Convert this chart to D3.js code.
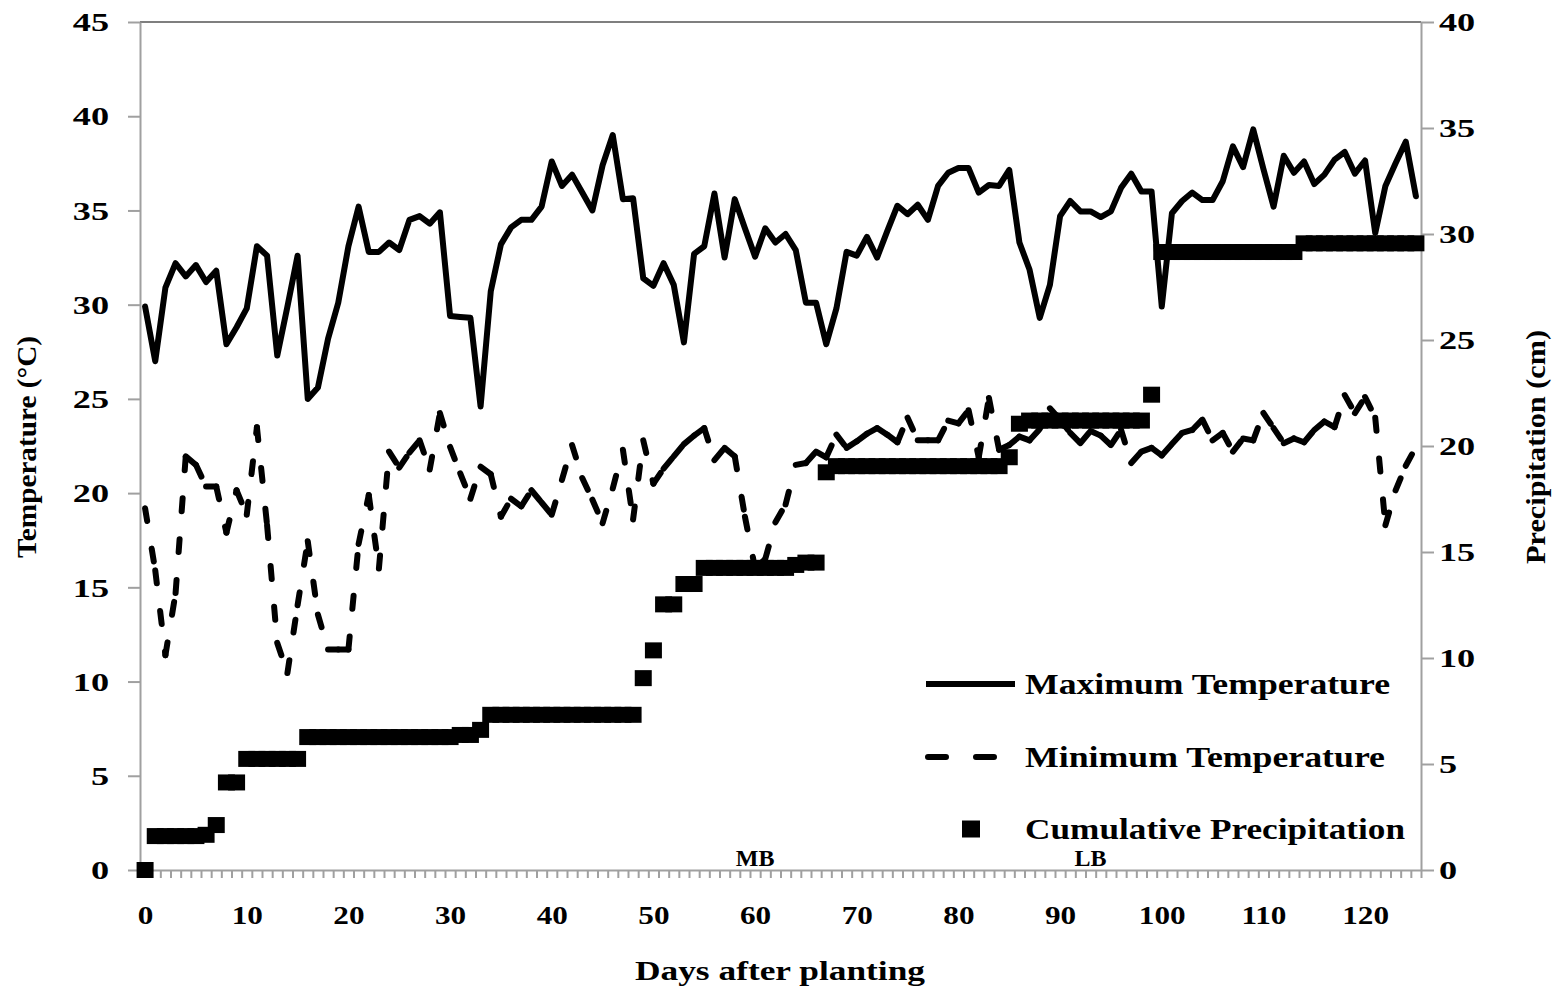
<!DOCTYPE html>
<meta charset="utf-8">
<style>
body { margin: 0; background: #fff; }
text { font-family: "Liberation Serif", "Times New Roman", serif; fill: #000; }
.axis path, .axis line { stroke: #a0a0a0; stroke-width: 2; }
.tick-label { font-weight: bold; font-size: 25px; }
.tmax { fill: none; stroke: #000; stroke-width: 6; stroke-linejoin: round; stroke-linecap: round; }
.tmin { fill: none; stroke: #000; stroke-width: 6; stroke-linecap: round; stroke-dasharray: 13 28; }
.precip { fill: #000; }
.legend-text { font-weight: bold; font-size: 30px; }
</style>
<svg width="1557" height="990"></svg>
<script src="https://d3js.org/d3.v7.min.js"></script>
<script>

// daily maximum temperature (C), days 0..125
var tMax = [29.9,27.0,30.9,32.2,31.5,32.1,31.2,31.8,27.9,28.8,
  29.8,33.1,32.6,27.3,29.9,32.6,25.0,25.6,28.2,30.1,
  33.1,35.2,32.8,32.8,33.3,32.9,34.5,34.7,34.3,34.9,
  29.4,29.35,29.3,24.6,30.7,33.2,34.1,34.5,34.5,35.2,
  37.6,36.3,36.9,35.95,35.0,37.4,39.0,35.6,35.65,31.4,
  31.0,32.2,31.05,28.0,32.7,33.1,35.9,32.5,35.6,34.05,
  32.55,34.05,33.3,33.75,32.9,30.1,30.1,27.9,29.8,32.8,
  32.6,33.6,32.5,33.9,35.25,34.8,35.3,34.5,36.3,37.0,
  37.25,37.25,35.95,36.35,36.3,37.15,33.3,31.85,29.3,31.05,
  34.7,35.5,34.95,34.95,34.65,34.95,36.2,36.95,36.0,36.0,
  29.9,34.85,35.5,35.95,35.55,35.55,36.55,38.4,37.3,39.3,
  37.2,35.2,37.9,37.0,37.6,36.4,36.9,37.7,38.1,36.95,
  37.65,33.8,36.3,37.5,38.65,35.75];

// daily minimum temperature (C)
var tMin = [19.2,15.9,11.4,14.7,21.95,21.5,20.35,20.35,17.9,20.15,
  18.85,23.5,18.3,12.05,10.45,14.05,17.45,13.55,11.7,11.7,
  11.7,17.3,19.9,16.0,22.2,21.35,22.15,22.8,21.25,24.25,
  22.45,21.05,19.7,21.4,21.0,18.75,19.7,19.3,20.15,19.5,
  18.85,20.7,22.55,20.8,19.65,18.4,20.25,22.3,18.6,22.8,
  20.5,21.3,21.95,22.6,23.05,23.45,21.75,22.4,21.95,18.75,
  16.0,16.5,18.45,19.4,21.5,21.6,22.2,21.9,23.1,22.4,
  22.75,23.15,23.45,23.1,22.7,24.0,22.8,22.8,22.8,23.85,
  23.7,24.4,21.9,25.05,22.3,22.55,23.0,22.8,23.4,24.5,
  23.9,23.2,22.65,23.3,23.05,22.55,23.35,21.6,22.2,22.4,
  22.0,22.6,23.2,23.35,23.9,22.8,23.2,22.2,22.9,22.8,
  24.25,23.45,22.65,22.9,22.7,23.35,23.8,23.5,25.2,24.25,
  25.1,24.0,18.3,20.15,21.45,22.45];

// cumulative precipitation (cm)
var precip = [0,1.6,1.6,1.6,1.6,1.6,1.66,2.12,4.13,4.13,
  5.24,5.24,5.24,5.24,5.24,5.24,6.27,6.27,6.27,6.27,
  6.27,6.27,6.27,6.27,6.27,6.27,6.27,6.27,6.27,6.27,
  6.27,6.37,6.37,6.61,7.32,7.32,7.32,7.32,7.32,7.32,
  7.32,7.32,7.32,7.32,7.32,7.32,7.32,7.32,7.32,9.05,
  10.36,12.53,12.53,13.49,13.49,14.25,14.25,14.25,14.25,14.25,
  14.25,14.25,14.25,14.25,14.39,14.5,14.5,18.76,19.05,19.05,
  19.05,19.05,19.05,19.05,19.05,19.05,19.05,19.05,19.05,19.05,
  19.05,19.05,19.05,19.05,19.05,19.47,21.05,21.2,21.2,21.2,
  21.2,21.2,21.2,21.2,21.2,21.2,21.2,21.2,21.2,22.42,
  29.15,29.15,29.15,29.15,29.15,29.15,29.15,29.15,29.15,29.15,
  29.15,29.15,29.15,29.15,29.56,29.56,29.56,29.56,29.56,29.56,
  29.56,29.56,29.56,29.56,29.56,29.56];

var xLabels = [0,10,20,30,40,50,60,70,80,90,100,110,120];
var tTicks = [0,5,10,15,20,25,30,35,40,45];
var pTicks = [0,5,10,15,20,25,30,35,40];
var stages = [{day: 60, name: "MB"}, {day: 93, name: "LB"}];
var legendItems = ["Maximum Temperature", "Minimum Temperature", "Cumulative Precipitation"];

var svg = d3.select("svg"),
    plotL = 140, plotR = 1421, plotT = 22, plotB = 870;

var x = d3.scaleLinear().domain([-0.5, tMax.length - 0.5]).range([plotL, plotR]);
var yT = d3.scaleLinear().domain([0, 45]).range([plotB, plotT]);
var yP = d3.scaleLinear().domain([0, 40]).range([plotB, plotT]);

// top border of plot area
svg.append("line")
    .attr("x1", plotL).attr("x2", plotR)
    .attr("y1", plotT).attr("y2", plotT)
    .attr("stroke", "#555").attr("stroke-width", 1.5);

// left axis
var gl = svg.append("g").attr("class", "axis")
    .attr("transform", "translate(" + plotL + ",0)")
    .call(d3.axisLeft(yT).tickValues(tTicks).tickSize(12).tickSizeOuter(0));
gl.selectAll("text").attr("class", "tick-label")
    .attr("x", 0).attr("dy", "0.35em")
    .attr("transform", "translate(-31,0) scale(1.45,1)");

// right axis
var gr = svg.append("g").attr("class", "axis")
    .attr("transform", "translate(" + plotR + ",0)")
    .call(d3.axisRight(yP).tickValues(pTicks).tickSize(13).tickSizeOuter(0));
gr.selectAll("text").attr("class", "tick-label")
    .attr("x", 0).attr("dy", "0.35em")
    .attr("transform", "translate(18,0) scale(1.45,1)");

// bottom axis: one tick per day boundary
var dayBounds = tMax.map(function(d, i) { return i - 0.5; }).concat([tMax.length - 0.5]);
svg.append("g").attr("class", "axis")
    .attr("transform", "translate(0," + plotB + ")")
    .call(d3.axisBottom(x).tickValues(dayBounds).tickSize(8).tickSizeOuter(0).tickFormat(""));

var gb = svg.append("g")
    .attr("transform", "translate(0," + plotB + ")")
    .call(d3.axisBottom(x).tickValues(xLabels).tickSize(0).tickPadding(36));
gb.select(".domain").remove();
gb.selectAll("text").attr("class", "tick-label").style("font-size", "26px")
    .attr("transform", "scale(1.2,1)");

// axis titles
svg.append("text")
    .attr("transform", "translate(36,447) rotate(-90)")
    .attr("text-anchor", "middle")
    .attr("textLength", 222).attr("lengthAdjust", "spacingAndGlyphs")
    .style("font-size", "28px").style("font-weight", "bold")
    .text("Temperature (°C)");

svg.append("text")
    .attr("transform", "translate(1545,447) rotate(-90)")
    .attr("text-anchor", "middle")
    .attr("textLength", 234).attr("lengthAdjust", "spacingAndGlyphs")
    .style("font-size", "28px").style("font-weight", "bold")
    .text("Precipitation (cm)");

svg.append("text")
    .attr("x", 780).attr("y", 980)
    .attr("text-anchor", "middle")
    .attr("textLength", 290).attr("lengthAdjust", "spacingAndGlyphs")
    .style("font-size", "28px").style("font-weight", "bold")
    .text("Days after planting");

// maximum temperature
var line = d3.line()
    .x(function(d, i) { return x(i); })
    .y(function(d) { return yT(d); });

svg.append("path")
    .datum(tMax)
    .attr("class", "tmax")
    .attr("d", line);

// minimum temperature: dash pattern restarts on every segment
var segs = tMin.slice(1).map(function(d, i) {
  return [[x(i), yT(tMin[i])], [x(i + 1), yT(d)]];
});
svg.append("g").selectAll("path")
    .data(segs)
    .enter().append("path")
    .attr("class", "tmin")
    .attr("d", d3.line());

// cumulative precipitation markers
svg.append("g").selectAll("rect")
    .data(precip)
    .enter().append("rect")
    .attr("class", "precip")
    .attr("x", function(d, i) { return x(i) - 8.5; })
    .attr("y", function(d) { return yP(d) - 8; })
    .attr("width", 17)
    .attr("height", 16);

// growth stage labels
svg.append("g").selectAll("text")
    .data(stages)
    .enter().append("text")
    .attr("x", function(d) { return x(d.day); })
    .attr("y", 866)
    .attr("text-anchor", "middle")
    .style("font-size", "24px").style("font-weight", "bold")
    .text(function(d) { return d.name; });

// legend
var lg = svg.append("g");
var legY = [684, 757, 829];
var legW = [365, 360, 380];
lg.append("line").attr("x1", 926).attr("x2", 1015).attr("y1", legY[0]).attr("y2", legY[0])
    .attr("stroke", "#000").attr("stroke-width", 6);
lg.append("line").attr("x1", 928).attr("x2", 996).attr("y1", legY[1]).attr("y2", legY[1])
    .attr("stroke", "#000").attr("stroke-width", 6).attr("stroke-linecap", "round")
    .attr("stroke-dasharray", "18 30");
lg.append("rect").attr("x", 962).attr("y", legY[2] - 8.5).attr("width", 18).attr("height", 17);
lg.selectAll("text")
    .data(legendItems)
    .enter().append("text")
    .attr("class", "legend-text")
    .attr("x", 1025)
    .attr("y", function(d, i) { return legY[i] + 10; })
    .attr("textLength", function(d, i) { return legW[i]; })
    .attr("lengthAdjust", "spacingAndGlyphs")
    .text(function(d) { return d; });

</script>
